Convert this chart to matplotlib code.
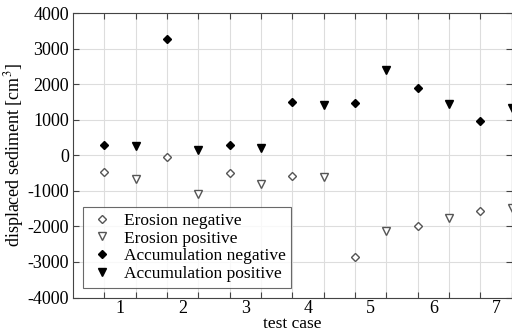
import matplotlib
matplotlib.use("Agg")
import matplotlib.pyplot as plt
import numpy as np

plt.rcParams['font.family'] = ['Liberation Serif', 'DejaVu Serif']
plt.rcParams['mathtext.fontset'] = 'stix'
plt.rcParams['axes.unicode_minus'] = False

cases = [1, 2, 3, 4, 5, 6, 7]
erosion_negative = [-455, -50, -485, -580, -2860, -1975, -1565]
erosion_positive = [-660, -1085, -800, -595, -2125, -1750, -1470]
accumulation_negative = [290, 3270, 305, 1500, 1470, 1910, 965]
accumulation_positive = [270, 150, 220, 1415, 2410, 1460, 1350]

x_neg = np.array(cases) - 0.25
x_pos = np.array(cases) + 0.25

fig = plt.figure(figsize=(5.12, 3.33), dpi=100)
ax = fig.add_axes([0.1426, 0.1066, 0.857, 0.853])

ax.plot(x_neg, erosion_negative, linestyle='none', marker='D', ms=4.2,
        mfc='white', mec='#555555', mew=1.0, label='Erosion negative')
ax.plot(x_pos, erosion_positive, linestyle='none', marker='v', ms=5.2,
        mfc='white', mec='#555555', mew=1.0, label='Erosion positive')
ax.plot(x_neg, accumulation_negative, linestyle='none', marker='D', ms=4.2,
        mfc='black', mec='black', label='Accumulation negative')
ax.plot(x_pos, accumulation_positive, linestyle='none', marker='v', ms=5.2,
        mfc='black', mec='black', label='Accumulation positive')

ax.set_xlim(0.25, 7.25)
ax.set_ylim(-4000, 4000)
ax.set_yticks(np.arange(-4000, 4001, 1000))
ax.set_xticks(sorted(list(x_neg) + list(x_pos)))
ax.set_xticklabels([])
ax.set_xticks(cases, minor=True)
ax.set_xticklabels([str(c) for c in cases], minor=True)
ax.tick_params(axis='x', which='minor', length=0, pad=2, labelsize=13)
ax.tick_params(axis='both', which='major', direction='in', length=4,
               top=True, right=True, labelsize=13, color='#444444', pad=3)
ax.grid(True, which='major', color='#dddddd', linewidth=0.8)
ax.set_axisbelow(True)
for s in ax.spines.values():
    s.set_color('#444444')
    s.set_linewidth(0.8)

ax.set_ylabel('displaced sediment [cm$^3$]', fontsize=13, labelpad=1)
ax.set_xlabel('test case', fontsize=12.5, va='bottom')
ax.xaxis.set_label_coords(0.5, -0.1066 / 0.853 + 0.002 / 0.853)

leg = ax.legend(loc='lower left', bbox_to_anchor=(0.022, 0.035), fontsize=12.5,
                frameon=True, fancybox=False, edgecolor='#444444',
                borderpad=0.3, labelspacing=0.1, handletextpad=0.5,
                handlelength=1.6, borderaxespad=0)
leg.get_frame().set_linewidth(0.8)

fig.savefig('out.png', dpi=100)
